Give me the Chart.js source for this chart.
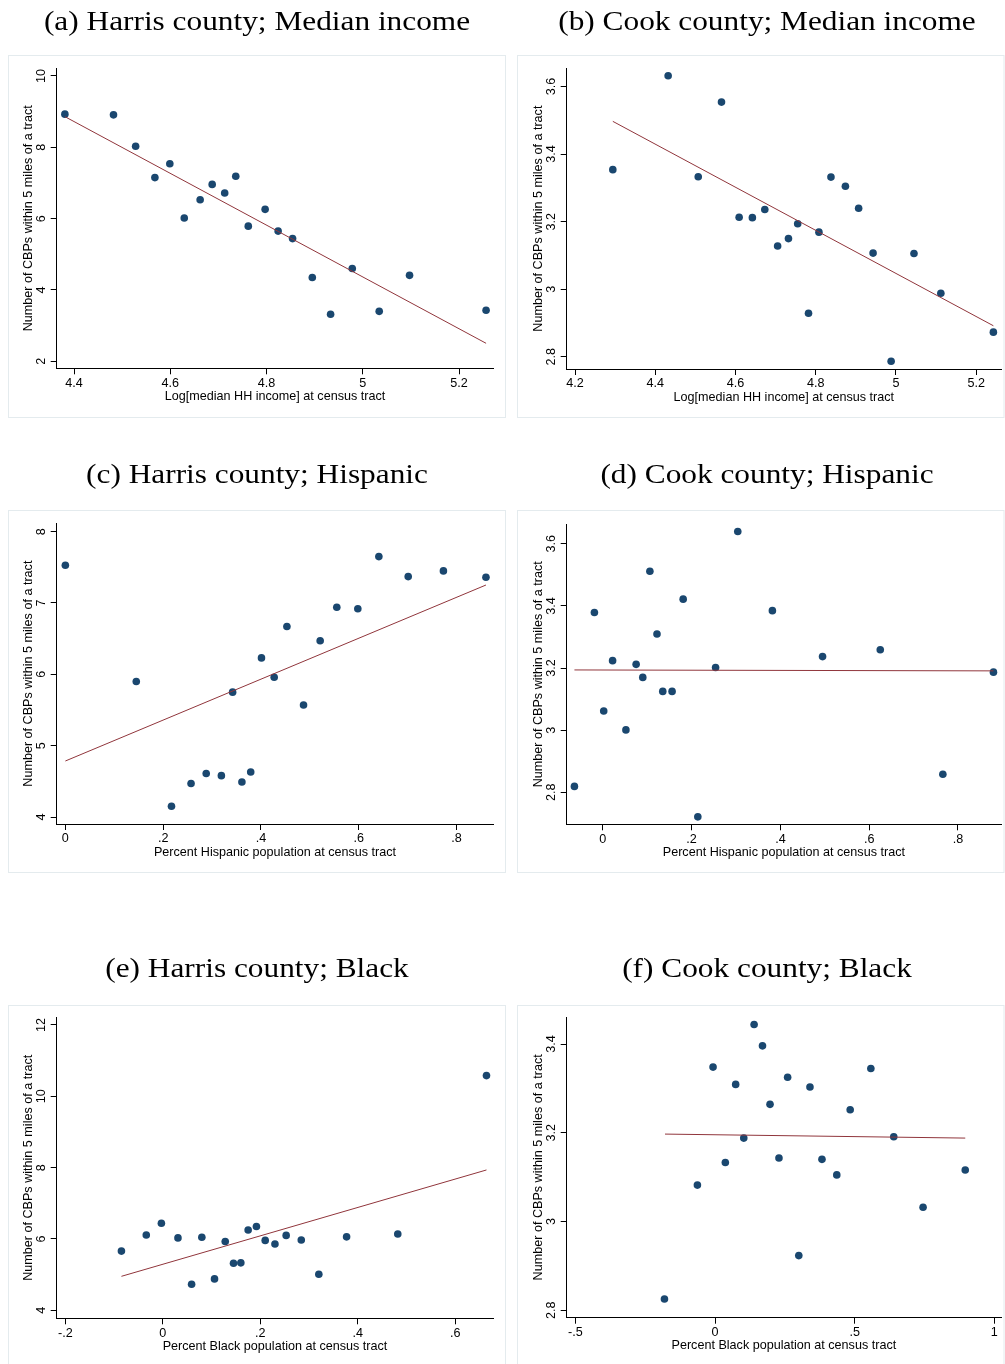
<!DOCTYPE html>
<html>
<head>
<meta charset="utf-8">
<script src="https://cdn.jsdelivr.net/npm/chart.js@4.4.1/dist/chart.umd.min.js"></script>
<style>
  html, body { margin: 0; padding: 0; background: #fff; overflow: hidden; }
  body { width: 1005px; height: 1364px; position: relative; }
  canvas { position: absolute; }
</style>
</head>
<body>
<canvas id="chartA"></canvas>
<canvas id="chartB"></canvas>
<canvas id="chartC"></canvas>
<canvas id="chartD"></canvas>
<canvas id="chartE"></canvas>
<canvas id="chartF"></canvas>
<script>
// (a) Harris county, median income
const harrisIncomeX = [4.381, 4.482, 4.528, 4.568, 4.599, 4.629, 4.662, 4.687, 4.713, 4.736, 4.762, 4.797, 4.824, 4.854, 4.895, 4.933, 4.978, 5.034, 5.097, 5.256];
const harrisIncomeY = [8.93, 8.91, 8.03, 7.15, 7.54, 6.02, 6.53, 6.96, 6.72, 7.19, 5.79, 6.26, 5.65, 5.44, 4.35, 3.32, 4.60, 3.40, 4.41, 3.43];
const harrisIncomeFitX = [4.381, 5.256];
const harrisIncomeFitY = [8.86, 2.505];

// (b) Cook county, median income
const cookIncomeX = [4.294, 4.432, 4.507, 4.565, 4.609, 4.642, 4.673, 4.705, 4.732, 4.755, 4.782, 4.808, 4.838, 4.874, 4.907, 4.943, 4.988, 5.045, 5.112, 5.243];
const cookIncomeY = [3.354, 3.632, 3.333, 3.554, 3.213, 3.212, 3.236, 3.128, 3.150, 3.194, 2.929, 3.169, 3.332, 3.305, 3.240, 3.107, 2.787, 3.106, 2.988, 2.873];
const cookIncomeFitX = [4.294, 5.243];
const cookIncomeFitY = [3.497, 2.892];

// (c) Harris county, Hispanic
const harrisHispX = [0, 0.145, 0.217, 0.257, 0.288, 0.319, 0.342, 0.361, 0.379, 0.401, 0.427, 0.453, 0.487, 0.521, 0.555, 0.598, 0.641, 0.701, 0.773, 0.86];
const harrisHispY = [7.53, 5.90, 4.15, 4.47, 4.61, 4.58, 5.75, 4.49, 4.63, 6.23, 5.96, 6.67, 5.57, 6.47, 6.94, 6.92, 7.65, 7.37, 7.45, 7.36];
const harrisHispFitX = [0, 0.86];
const harrisHispFitY = [4.785, 7.252];

// (d) Cook county, Hispanic
const cookHispX = [-0.064, -0.019, 0.002, 0.022, 0.052, 0.075, 0.090, 0.106, 0.122, 0.135, 0.156, 0.181, 0.214, 0.254, 0.304, 0.382, 0.495, 0.625, 0.766, 0.880];
const cookHispY = [2.819, 3.379, 3.062, 3.224, 3.001, 3.212, 3.170, 3.512, 3.310, 3.125, 3.125, 3.422, 2.721, 3.202, 3.640, 3.385, 3.237, 3.259, 2.858, 3.187];
const cookHispFitX = [-0.064, 0.880];
const cookHispFitY = [3.194, 3.191];

// (e) Harris county, Black
const harrisBlackX = [-0.085, -0.034, -0.003, 0.031, 0.059, 0.080, 0.106, 0.128, 0.145, 0.160, 0.175, 0.192, 0.210, 0.230, 0.253, 0.284, 0.320, 0.377, 0.482, 0.664];
const harrisBlackY = [5.66, 6.11, 6.44, 6.03, 4.73, 6.05, 4.88, 5.93, 5.32, 5.33, 6.25, 6.35, 5.96, 5.86, 6.10, 5.97, 5.01, 6.06, 6.14, 10.58];
const harrisBlackFitX = [-0.085, 0.664];
const harrisBlackFitY = [4.953, 7.935];

// (f) Cook county, Black
const cookBlackX = [-0.181, -0.063, -0.007, 0.037, 0.074, 0.103, 0.140, 0.170, 0.197, 0.229, 0.260, 0.300, 0.340, 0.383, 0.436, 0.484, 0.558, 0.640, 0.745, 0.896];
const cookBlackY = [2.825, 3.082, 3.348, 3.133, 3.309, 3.188, 3.444, 3.396, 3.264, 3.143, 3.325, 2.923, 3.303, 3.140, 3.105, 3.252, 3.345, 3.191, 3.032, 3.116];
const cookBlackFitX = [-0.179, 0.896];
const cookBlackFitY = [3.197, 3.188];

// tick values
const incomeXTicksA = [4.4, 4.6, 4.8, 5, 5.2];
const incomeXTicksB = [4.2, 4.4, 4.6, 4.8, 5, 5.2];
const hispXTicks = [0, 0.2, 0.4, 0.6, 0.8];
const blackXTicksE = [-0.2, 0, 0.2, 0.4, 0.6];
const blackXTicksF = [-0.5, 0, 0.5, 1];
const yTicksA = [2, 4, 6, 8, 10];
const yTicksCook = [2.8, 3, 3.2, 3.4, 3.6];
const yTicksC = [4, 5, 6, 7, 8];
const yTicksE = [4, 6, 8, 10, 12];
const yTicksF = [2.8, 3, 3.2, 3.4];

const Y_TITLE = 'Number of CBPs within 5 miles of a tract';
const DOT_COLOR = '#1a476f';
const LINE_COLOR = '#90353b';
const BOX_COLOR = '#e4ebee';
const SANS = '12.6px "Liberation Sans", Arial, sans-serif';
const SERIF = '27px "Liberation Serif", "Times New Roman", serif';

// page layout: canvas columns / rows and the framed box in each
const COLS = [
  { x: 0, w: 512, boxX: 8, boxW: 498, titleX: 257 },
  { x: 512, w: 493, boxX: 517, boxW: 487.5, titleX: 767 }
];
const ROWS = [
  { y: 0, h: 425, boxY: 55, titleBase: 30 },
  { y: 440, h: 440, boxY: 510, titleBase: 483.3 },
  { y: 930, h: 434, boxY: 1005, titleBase: 976.7 }
];
const BOX_H = 363;

// Stata style tick labels: .2, -.5, 4.4
function stataLabel(v) {
  let s = String(Math.round(v * 1000) / 1000);
  if (s.startsWith('0.')) s = s.slice(1);
  else if (s.startsWith('-0.')) s = '-' + s.slice(2);
  return s;
}

function textPlugin(p, col, row) {
  return {
    id: 'stataText',
    beforeDraw(chart) {
      const ctx = chart.ctx;
      ctx.save();
      ctx.strokeStyle = BOX_COLOR;
      ctx.lineWidth = 1;
      ctx.strokeRect(col.boxX - col.x + 0.5, row.boxY - row.y + 0.5, col.boxW - 1, BOX_H - 1);
      ctx.restore();
    },
    afterDraw(chart) {
      const ctx = chart.ctx;
      const ca = chart.chartArea;
      const xs = chart.scales.x;
      const ys = chart.scales.y;
      ctx.save();
      ctx.fillStyle = '#000';
      ctx.textAlign = 'center';
      ctx.textBaseline = 'alphabetic';

      // panel title
      ctx.font = SERIF;
      ctx.save();
      ctx.translate(col.titleX - col.x, row.titleBase - row.y);
      ctx.scale(1.16, 1);
      ctx.fillText(p.title, 0, 0);
      ctx.restore();

      ctx.font = SANS;
      p.xTicks.forEach(v => {
        ctx.fillText(stataLabel(v), xs.getPixelForValue(v), ca.bottom + 18.2);
      });
      ctx.fillText(p.xTitle, (ca.left + ca.right) / 2, ca.bottom + 31.5);

      p.yTicks.forEach(v => {
        ctx.save();
        ctx.translate(ca.left - 11.4, ys.getPixelForValue(v));
        ctx.rotate(-Math.PI / 2);
        ctx.fillText(stataLabel(v), 0, 0);
        ctx.restore();
      });
      ctx.save();
      ctx.translate(ca.left - 25, (ca.top + ca.bottom) / 2);
      ctx.rotate(-Math.PI / 2);
      ctx.fillText(Y_TITLE, 0, 0);
      ctx.restore();
      ctx.restore();
    }
  };
}

function axisOpts(min, max, ticks) {
  return {
    type: 'linear',
    min: min,
    max: max,
    afterBuildTicks: s => { s.ticks = ticks.map(v => ({ value: v })); },
    ticks: { display: false },
    grid: { display: true, drawOnChartArea: false, drawTicks: true, tickLength: 6, color: '#000', lineWidth: 1 },
    border: { display: true, color: '#000', width: 1 }
  };
}

function makeChart(p) {
  const canvas = document.getElementById(p.id);
  const col = COLS[p.col];
  const row = ROWS[p.row];
  canvas.width = col.w;
  canvas.height = row.h;
  canvas.style.left = col.x + 'px';
  canvas.style.top = row.y + 'px';

  const left = p.area[0] - col.x;
  const right = p.area[1] - col.x;
  const top = p.area[2] - row.y;
  const bottom = p.area[3] - row.y;

  const xAxis = axisOpts(p.xRange[0], p.xRange[1], p.xTicks);
  xAxis.afterFit = s => { s.height = row.h - bottom; };
  const yAxis = axisOpts(p.yRange[0], p.yRange[1], p.yTicks);
  yAxis.afterFit = s => { s.width = left; };

  new Chart(canvas, {
    type: 'scatter',
    data: {
      datasets: [
        {
          data: p.fitX.map((x, i) => ({ x: x, y: p.fitY[i] })),
          showLine: true,
          borderColor: LINE_COLOR,
          borderWidth: 1,
          pointRadius: 0,
          clip: false
        },
        {
          data: p.x.map((x, i) => ({ x: x, y: p.y[i] })),
          backgroundColor: DOT_COLOR,
          borderWidth: 0,
          pointRadius: 3.8,
          clip: false
        }
      ]
    },
    options: {
      responsive: false,
      animation: false,
      events: [],
      layout: { padding: { left: 0, top: top, right: col.w - right, bottom: 0 } },
      plugins: { legend: { display: false }, tooltip: { enabled: false } },
      scales: { x: xAxis, y: yAxis }
    },
    plugins: [textPlugin(p, col, row)]
  });
}

const panels = [
  { id: 'chartA', col: 0, row: 0, title: '(a) Harris county; Median income', xTitle: 'Log[median HH income] at census tract',
    x: harrisIncomeX, y: harrisIncomeY, fitX: harrisIncomeFitX, fitY: harrisIncomeFitY,
    xTicks: incomeXTicksA, yTicks: yTicksA, xRange: [4.364, 5.271], yRange: [1.804, 10.215], area: [56.7, 493.3, 68.3, 368.3] },
  { id: 'chartB', col: 1, row: 0, title: '(b) Cook county; Median income', xTitle: 'Log[median HH income] at census tract',
    x: cookIncomeX, y: cookIncomeY, fitX: cookIncomeFitX, fitY: cookIncomeFitY,
    xTicks: incomeXTicksB, yTicks: yTicksCook, xRange: [4.179, 5.262], yRange: [2.764, 3.654], area: [566.7, 1003.3, 68.3, 369] },
  { id: 'chartC', col: 0, row: 1, title: '(c) Harris county; Hispanic', xTitle: 'Percent Hispanic population at census tract',
    x: harrisHispX, y: harrisHispY, fitX: harrisHispFitX, fitY: harrisHispFitY,
    xTicks: hispXTicks, yTicks: yTicksC, xRange: [-0.0177, 0.875], yRange: [3.902, 8.117], area: [56.7, 493.3, 523.3, 824] },
  { id: 'chartD', col: 1, row: 1, title: '(d) Cook county; Hispanic', xTitle: 'Percent Hispanic population at census tract',
    x: cookHispX, y: cookHispY, fitX: cookHispFitX, fitY: cookHispFitY,
    xTicks: hispXTicks, yTicks: yTicksCook, xRange: [-0.0814, 0.897], yRange: [2.697, 3.663], area: [566.7, 1003.3, 524.3, 824.3] },
  { id: 'chartE', col: 0, row: 2, title: '(e) Harris county; Black', xTitle: 'Percent Black population at census tract',
    x: harrisBlackX, y: harrisBlackY, fitX: harrisBlackFitX, fitY: harrisBlackFitY,
    xTicks: blackXTicksE, yTicks: yTicksE, xRange: [-0.2178, 0.678], yRange: [3.776, 12.215], area: [56.7, 493.3, 1017.3, 1318.3] },
  { id: 'chartF', col: 1, row: 2, title: '(f) Cook county; Black', xTitle: 'Percent Black population at census tract',
    x: cookBlackX, y: cookBlackY, fitX: cookBlackFitX, fitY: cookBlackFitY,
    xTicks: blackXTicksF, yTicks: yTicksF, xRange: [-0.531, 1.024], yRange: [2.783, 3.461], area: [566.7, 1003, 1017, 1317.7] }
];

panels.forEach(makeChart);
</script>
</body>
</html>
